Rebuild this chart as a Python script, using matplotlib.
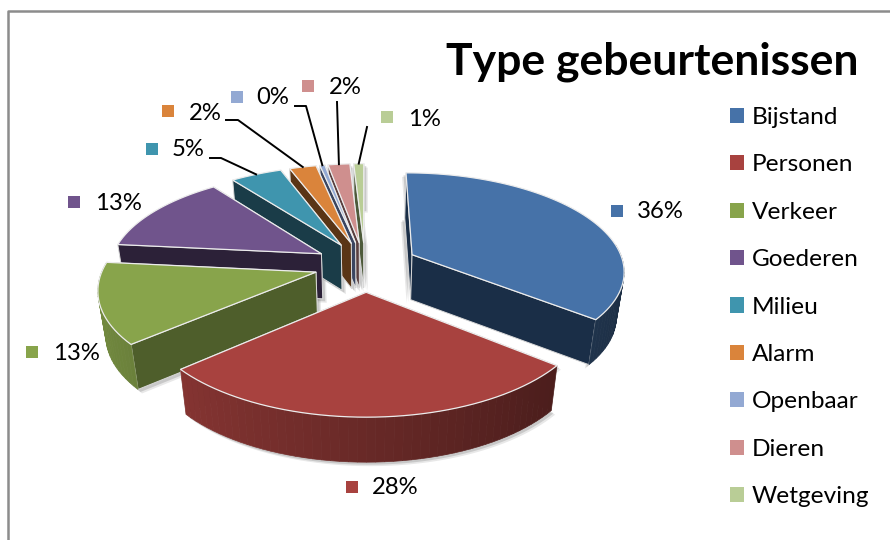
import numpy as np
import matplotlib
matplotlib.use("Agg")
import matplotlib.pyplot as plt
from matplotlib.patches import Polygon, Patch
from matplotlib.colors import to_rgb

# --------------------------------------------------
# Data
# --------------------------------------------------
categories = ["Bijstand", "Personen", "Verkeer", "Goederen", "Milieu",
              "Alarm", "Openbaar", "Dieren", "Wetgeving"]
values = [35.8, 27.8, 13.0, 13.1, 4.6, 2.4, 0.45, 1.95, 0.9]

colors = ["#4672A8", "#A8423F", "#88A44B", "#70548C", "#3F95AE",
          "#DA843B", "#93A9D3", "#CF8F8E", "#B9CD96"]
wall_colors = ["#1A2E47", "#5A2220", "#4E5E2B", "#2C2138", "#1A3C48",
               "#5A3516", "#3A4560", "#5A3F3F", "#4D5A3A"]

title = "Type gebeurtenissen"

# label square / text centre / leader start, in figure pixels
label_box = [(617, 211), (352, 487), (32, 352), (74, 202), (152, 149),
             (168, 111), (237, 97), (308, 86), (387, 117)]
label_txt = [(660, 212), (395, 488), (76, 354), (118, 203), (188, 150),
             (205, 113), (273, 97), (345, 87), (424, 119)]
leaders = {4: [(210, 158), (221, 158)], 5: [(226, 120), (238, 120)],
           6: [(295, 106), (306, 106)], 7: [(337, 102)], 8: [(367, 127)]}

# --------------------------------------------------
# Projection of the tilted pie
# --------------------------------------------------
cx, cy = 365, 265
rx, ry = 212, 97
persp = 0.15
explode = [0.25, 0.27, 0.24, 0.24, 0.24, 0.24, 0.24, 0.24, 0.24]
depth = 45


def project(X, Y):
    s = 1 / (1 + persp * Y)
    return cx + rx * X * s, cy - ry * Y * s


def lower(x, y):
    return cx + (x - cx) * 0.97, y + depth


def shade(color, f):
    return tuple(c * f for c in to_rgb(color))


fig, ax = plt.subplots(figsize=(8.9, 5.4), dpi=100)
ax.set_position([0, 0, 1, 1])
ax.set_xlim(0, 890)
ax.set_ylim(540, 0)
ax.axis("off")
plt.rcParams["font.family"] = ["Lato", "DejaVu Sans"]

# frame of the chart
ax.plot([7.5, 7.5, 890], [540, 10.5, 10.5], color="#8c8c8c", lw=1.8)

fracs = np.array(values) / sum(values)
ends = np.cumsum(fracs) * 2 * np.pi
starts = ends - fracs * 2 * np.pi
mids = (starts + ends) / 2

# back slices first
order = sorted(range(len(values)), key=lambda i: -np.cos(mids[i]))

shapes = {}
for i in order:
    a0, a1, mid = starts[i], ends[i], mids[i]
    ox, oy = explode[i] * np.sin(mid), explode[i] * np.cos(mid)
    n = max(3, int((a1 - a0) / np.radians(2)))
    th = np.linspace(a0, a1, n)
    arc = [project(ox + np.sin(t), oy + np.cos(t)) for t in th]
    shapes[i] = (project(ox, oy), arc, th)

# soft shadows go under every slice
for i in order:
    apex, arc, th = shapes[i]
    sign = 1 if apex[0] < 385 else -1
    sil = [apex] + arc + [lower(*p) for p in arc[::-1]] + [lower(*apex)]
    for grow, alpha in ((4, 0.18), (2.5, 0.3)):
        shadow = [(p[0] + sign * grow, p[1] + grow) for p in sil]
        ax.add_patch(Polygon(shadow, closed=True, fc="#808080", ec="none", alpha=alpha))

for i in order:
    apex, arc, th = shapes[i]
    top = [apex] + arc

    # hidden radial wall first, the one facing us last
    walls = []
    for p in (arc[0], arc[-1]):
        q = [apex, p, lower(*p), lower(*apex)]
        walls.append(((apex[1] + p[1]) / 2, q))
    for _, q in sorted(walls, key=lambda w: w[0]):
        ax.add_patch(Polygon(q, closed=True, fc=wall_colors[i], ec="#d8d8d8", lw=0.7))

    # outer rim, as thin strips so it can be shaded along the arc
    for j in range(len(th) - 1):
        t = (th[j] + th[j + 1]) / 2
        if np.cos(t) > 0.1:
            continue
        f = 0.62 - 0.22 * np.sin(t)
        q = [arc[j], arc[j + 1], lower(*arc[j + 1]), lower(*arc[j])]
        c = shade(colors[i], f)
        ax.add_patch(Polygon(q, closed=True, fc=c, ec=c, lw=0.5))

    ax.add_patch(Polygon(top, closed=True, fc=colors[i], ec="#ececec", lw=0.9, joinstyle="round"))

# --------------------------------------------------
# Data labels with leader lines
# --------------------------------------------------
for i, pct in enumerate(fracs * 100):
    ax.scatter(*label_box[i], marker="s", s=80, color=colors[i], linewidths=0, zorder=5)
    ax.text(*label_txt[i], f"{pct:.0f}%", fontsize=17.2, color="#000000",
            ha="center", va="center", zorder=5)
    if i in leaders:
        ox, oy = explode[i] * np.sin(mids[i]), explode[i] * np.cos(mids[i])
        end = project(ox + np.sin(mids[i]), oy + np.cos(mids[i]))
        pts = leaders[i] + [end]
        ax.plot([p[0] for p in pts], [p[1] for p in pts], color="black", lw=1.4, zorder=4)

# --------------------------------------------------
# Title and legend
# --------------------------------------------------
ax.text(858, 62, title, fontsize=32, fontweight="bold", ha="right", va="center", color="black")

handles = [Patch(fc=c, ec="none") for c in colors]
ax.legend(handles, categories, loc="upper left", bbox_to_anchor=(730 / 890, 1 - 107 / 540),
          frameon=False, fontsize=17.6, labelspacing=1.08, handlelength=0.58, handleheight=0.58,
          handletextpad=0.3, borderpad=0, borderaxespad=0)

plt.savefig("out.png", dpi=100)
